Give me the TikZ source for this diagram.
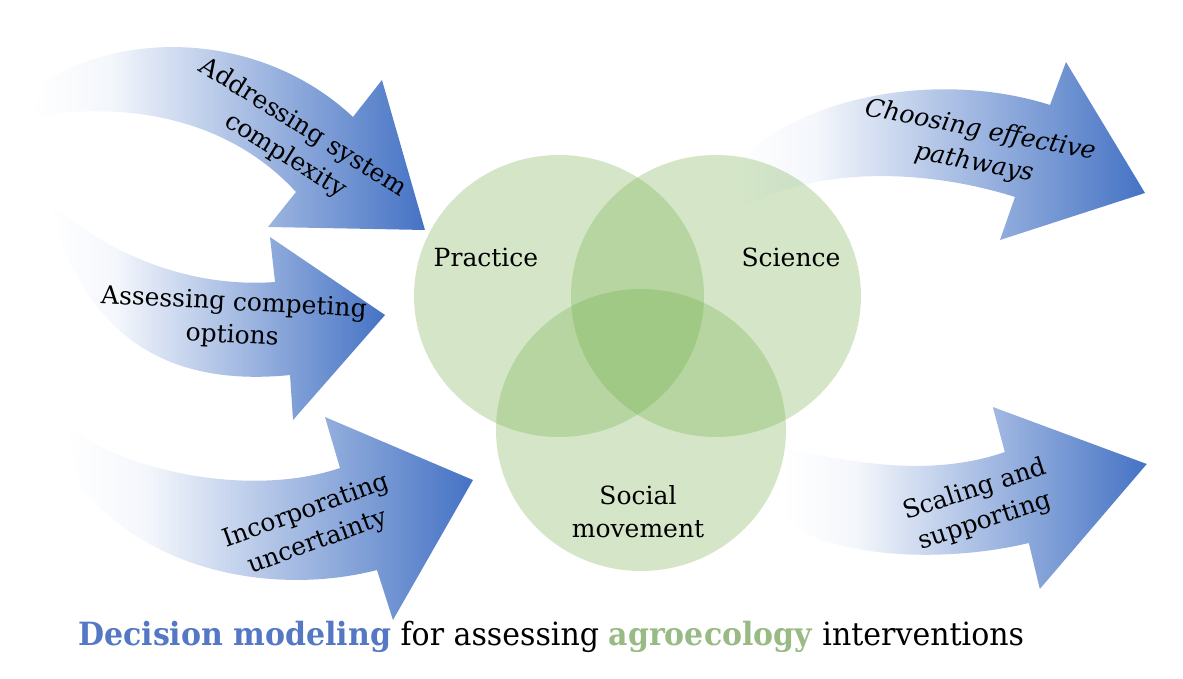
\documentclass[tikz,border=0pt]{standalone}
\usepackage{fontspec}
\setmainfont{DejaVu Serif}
\usetikzlibrary{fadings}

\definecolor{arrowblue}{RGB}{68,114,196}
\definecolor{venngreen}{RGB}{112,173,71}
\definecolor{capblue}{RGB}{84,120,196}
\definecolor{capgreen}{RGB}{152,186,132}
\pgfdeclarehorizontalshading{tailshade}{100bp}{color(0bp)=(black); color(25bp)=(black); color(35bp)=(white!6!black); color(75bp)=(white); color(100bp)=(white)}
\tikzfading[name=tailfade, shading=tailshade]

\tikzset{
  venn/.style={fill=venngreen,fill opacity=0.3},
  bigarrow/.style={fill=arrowblue,path fading=tailfade},
  lbl/.style={font=\fontsize{25}{33}\selectfont,align=center,inner sep=0pt}
}

\begin{document}
\begin{tikzpicture}[x=1pt,y=-1pt]
  \useasboundingbox (0,0) rectangle (1183,679);
  % Venn circles
  \fill[venn] (559,296) ellipse (145 and 141);
  \fill[venn] (716,296) ellipse (145 and 141);
  \fill[venn] (641,430) ellipse (145 and 141);
  \node[lbl] (practice) at (486,257) {Practice};
  \node[lbl] (science) at (791,257) {Science};
  \node[lbl] (social) at (638,512) {Social\\movement};
  % Addressing system complexity
  \fill[bigarrow] (40,85) .. controls (120,30) and (260,30) .. (353,117)
    -- (382,80) -- (425,230) -- (268,227) -- (296,192)
    .. controls (230,120) and (130,100) .. (33,117) -- cycle;
  \node[lbl,rotate=-32] (complexity) at (294,142) {Addressing system\\complexity};
  % Assessing competing options
  \fill[bigarrow] (50,203) .. controls (110,255) and (190,288) .. (275,282)
    -- (270,237) -- (385,315) -- (293,420) -- (290,375)
    .. controls (190,385) and (100,355) .. (58,232) -- cycle;
  \node[lbl,rotate=-3] (options) at (233,320) {Assessing competing\\options};
  % Incorporating uncertainty
  \fill[bigarrow] (67,427) .. controls (140,478) and (260,495) .. (340,468)
    -- (325,417) -- (473,480) -- (393,620) -- (377,570)
    .. controls (280,595) and (150,575) .. (80,485) -- cycle;
  \node[lbl,rotate=20] (uncertainty) at (312,527) {Incorporating\\uncertainty};
  % Choosing effective pathways
  \fill[bigarrow] (735,165) .. controls (800,95) and (940,70) .. (1050,105)
    -- (1066,62) -- (1145,193) -- (1000,240) -- (1015,197)
    .. controls (930,170) and (820,165) .. (745,207) -- cycle;
  \node[lbl,rotate=-11,font=\fontsize{25}{33}\selectfont\itshape] (pathways) at (977,147) {Choosing effective\\pathways};
  % Scaling and supporting
  \fill[bigarrow] (785,448) .. controls (850,462) and (930,478) .. (1005,452)
    -- (993,407) -- (1147,464) -- (1040,589) -- (1029,543)
    .. controls (950,562) and (840,560) .. (785,522) -- cycle;
  \node[lbl,rotate=18] (scaling) at (980,506) {Scaling and\\supporting};
  % Caption
  \node[anchor=base west,inner sep=0pt,font=\fontsize{32}{38}\selectfont] (caption) at (78,645)
    {\scalebox{0.938}[1]{\textcolor{capblue}{\textbf{Decision modeling}} for assessing \textcolor{capgreen}{\textbf{agroecology}} interventions}};
\end{tikzpicture}
\end{document}
